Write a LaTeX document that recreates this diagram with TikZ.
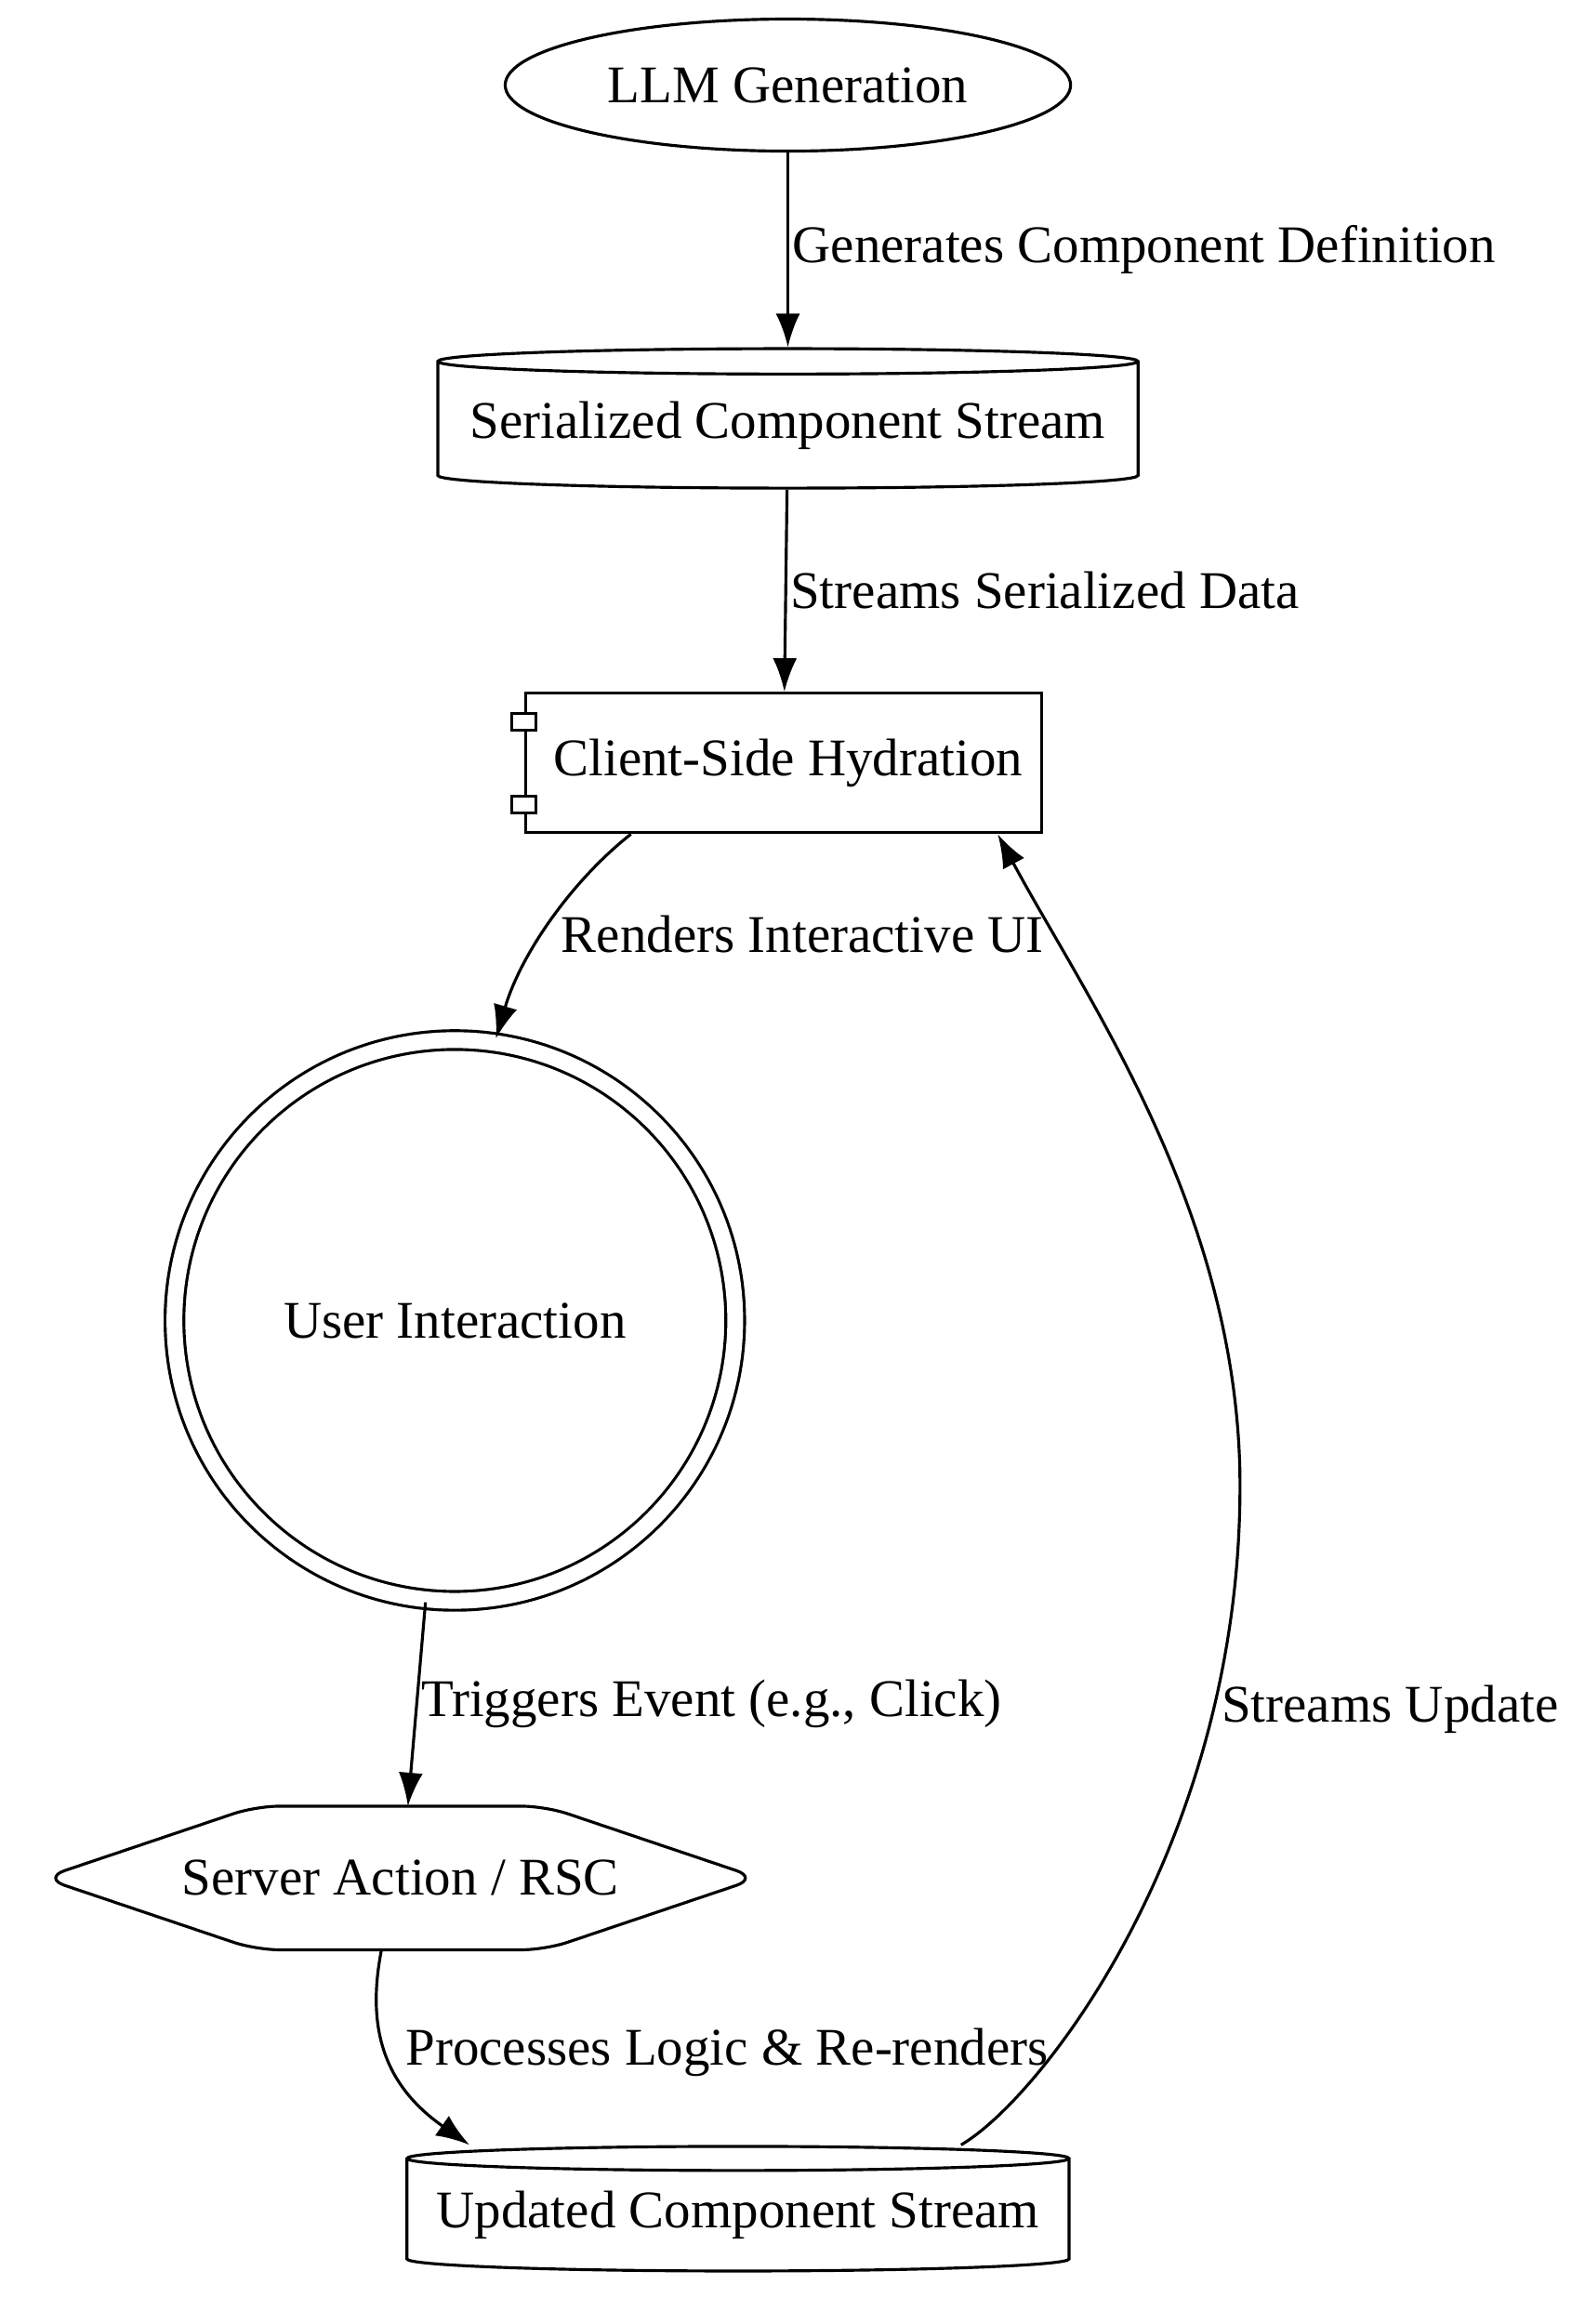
\documentclass[tikz,border=0pt]{standalone}
\usepackage{fontspec}
\setmainfont{Liberation Serif}
\usetikzlibrary{shapes.geometric,arrows.meta}
\begin{document}
\begin{tikzpicture}
    [%%%%%%%%%%%%%%%%%%%%%%%%%%%%%%
        x=0.01578cm, y=-0.01578cm,
        every node/.style={font=\fontsize{16.2}{19}\selectfont},
        base/.style={draw=black, line width=0.9pt, inner sep=0pt},
        stream/.style={base, cylinder, shape border rotate=90, aspect=0.04},
        lab/.style={anchor=west, inner sep=1pt},
        flow/.style={line width=0.9pt, -{Latex[length=0.36cm,width=0.26cm]}},
    ]%%%%%%%%%%%%%%%%%%%%%%%%%%%%%%
\useasboundingbox (0,0) rectangle (1080,1584);
\node[base, ellipse, minimum width=6.08cm, minimum height=1.42cm] (llm) at (537,58) {LLM Generation};
\node[stream, minimum width=7.53cm, minimum height=1.50cm] (ser) at (537,290) {Serialized Component Stream};
\node[base, rectangle, minimum width=5.55cm, minimum height=1.50cm] (hyd) at (534,520) {\hspace{0.1cm}Client-Side Hydration};
\draw[line width=0.9pt, fill=white] ([xshift=-0.13cm,yshift=-0.23cm]hyd.north west) rectangle ++(0.26cm,-0.18cm);
\draw[line width=0.9pt, fill=white] ([xshift=-0.13cm,yshift=0.41cm]hyd.south west) rectangle ++(0.26cm,-0.18cm);
\node[base, circle, double=white, double distance=0.17cm, minimum size=6.03cm] (usr) at (310,900) {User Interaction};
\node[minimum width=7.68cm, minimum height=1.53cm, inner sep=0pt] (srv) at (273,1280) {Server Action / RSC};
\draw[line width=0.9pt, rounded corners=0.25cm] (srv.west) -- ([xshift=2.29cm]srv.north west) -- ([xshift=-2.29cm]srv.north east) -- (srv.east) -- ([xshift=-2.29cm]srv.south east) -- ([xshift=2.29cm]srv.south west) -- cycle;
\node[stream, minimum width=7.12cm, minimum height=1.34cm] (upd) at (503,1510) {Updated Component Stream};

\draw[flow] (llm) -- (ser) node[lab, midway] {Generates Component Definition};
\draw[flow] (ser) -- (hyd) node[lab, midway] {Streams Serialized Data};
\draw[flow] (hyd.south -| 430,0) .. controls (390,600) and (355,650) .. (usr.north -| 338,0);
\node[lab] (rndlab) at (380,637) {Renders Interactive UI};
\draw[flow] (usr.south -| 290,0) -- (srv.north -| 278,0) node[lab, midway] {Triggers Event (e.g., Click)};
\draw[flow] (srv.south -| 260,0) .. controls (250,1380) and (260,1420) .. (upd.north -| 320,0) node[lab, pos=0.5, xshift=0.15cm] {Processes Logic \& Re-renders};
\draw[flow] (upd.north -| 655,0) .. controls (710,1430) and (850,1250) .. (845,1000) .. controls (840,820) and (740,680) .. (hyd.south -| 680,0);
\node[lab] (updlab) at (830,1165) {Streams Update};
\end{tikzpicture}
\end{document}
